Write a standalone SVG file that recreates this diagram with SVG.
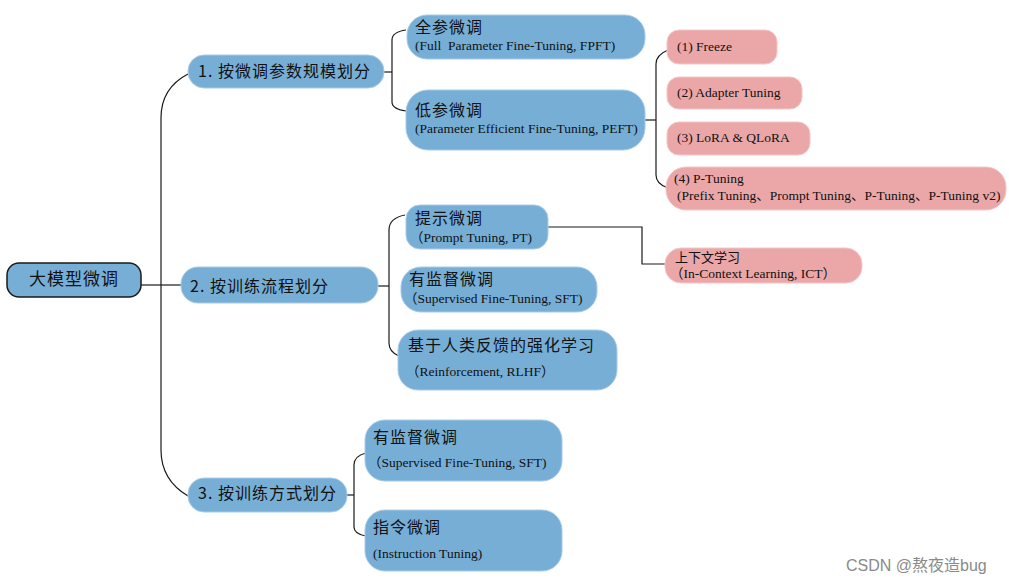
<svg xmlns="http://www.w3.org/2000/svg" width="1009" height="584" viewBox="0 0 1009 584">
<style>
.b{fill:#76AED6;stroke:#A8CBE6;stroke-width:1}
.p{fill:#EBA7A8;stroke:#F3C6C7;stroke-width:1}
.r{fill:#76AED6;stroke:#1a1a1a;stroke-width:1.5}
.c{font-family:"Noto Sans CJK SC","Liberation Sans",sans-serif;fill:#111;font-size:16px;letter-spacing:1px}
.s{font-family:"Liberation Serif","Noto Sans CJK SC",serif;fill:#111;font-size:13.5px;white-space:pre}
.l{fill:none;stroke:#1a1a1a;stroke-width:1.2}
</style>
<rect width="1009" height="584" fill="#fff"/>
<g id="connectors">
<path class="l" d="M141 285H161"/>
<path class="l" d="M188 74Q161 88 161 118V450Q161 480 188 496"/>
<path class="l" d="M161 285H181"/>
<path class="l" d="M384 72H392"/>
<path class="l" d="M406 30Q392 32 392 40V102Q392 109 406 111"/>
<path class="l" d="M643 120H656"/>
<path class="l" d="M668 50Q656 55 656 64V175Q656 184 668 188"/>
<path class="l" d="M378 286H389"/>
<path class="l" d="M405 215Q389 218 389 230V343Q389 352 399 356"/>
<path class="l" d="M548 227H642V264H666"/>
<path class="l" d="M347 495H354"/>
<path class="l" d="M366 453Q354 456 354 465V527Q354 534 366 536"/>
</g>
<g id="root"><rect class="r" x="7" y="263" width="134" height="34" rx="12"/><text class="c" x="74" y="285" style="font-size:17px" text-anchor="middle">大模型微调</text></g>
<g id="n1"><rect class="b" x="188" y="55" width="196" height="33" rx="16"/><text class="c" x="198" y="77">1. 按微调参数规模划分</text></g>
<g id="n1a"><rect class="b" x="407" y="15" width="238" height="44" rx="20"/><text class="c" x="415" y="33">全参微调</text><text class="s" x="415" y="50" xml:space="preserve">(Full  Parameter Fine-Tuning, FPFT)</text></g>
<g id="n1b"><rect class="b" x="406" y="90" width="239" height="60" rx="22"/><text class="c" x="415" y="116">低参微调</text><text class="s" x="415" y="133">(Parameter Efficient Fine-Tuning, PEFT)</text></g>
<g id="p1"><rect class="p" x="667" y="30" width="110" height="34" rx="12"/><text class="s" x="677" y="51">(1) Freeze</text></g>
<g id="p2"><rect class="p" x="667" y="77" width="135" height="32" rx="12"/><text class="s" x="677" y="97">(2) Adapter Tuning</text></g>
<g id="p3"><rect class="p" x="667" y="122" width="143" height="33" rx="12"/><text class="s" x="677" y="142">(3) LoRA &amp; QLoRA</text></g>
<g id="p4"><rect class="p" x="666" y="167" width="340" height="43" rx="20"/><text class="s" x="674" y="183">(4) P-Tuning</text><text class="s" x="677" y="200">(Prefix Tuning、Prompt Tuning、P-Tuning、P-Tuning v2)</text></g>
<g id="n2"><rect class="b" x="181" y="267" width="197" height="36" rx="17"/><text class="c" x="190" y="292">2. 按训练流程划分</text></g>
<g id="n2a"><rect class="b" x="406" y="205" width="142" height="44" rx="14"/><text class="c" x="415" y="224">提示微调</text><text class="s" x="410" y="242">（Prompt Tuning, PT)</text></g>
<g id="n2b"><rect class="b" x="401" y="267" width="196" height="45" rx="20"/><text class="c" x="409" y="285">有监督微调</text><text class="s" x="404" y="303">（Supervised Fine-Tuning, SFT)</text></g>
<g id="n2c"><rect class="b" x="398" y="330" width="219" height="60" rx="20"/><text class="c" x="408" y="351">基于人类反馈的强化学习</text><text class="s" x="406" y="376">（Reinforcement, RLHF）</text></g>
<g id="ict"><rect class="p" x="665" y="248" width="197" height="35" rx="16"/><text class="c" x="675" y="262" style="font-size:13px;letter-spacing:0">上下文学习</text><text class="s" x="670" y="278">（In-Context Learning, ICT）</text></g>
<g id="n3"><rect class="b" x="188" y="478" width="159" height="34" rx="16"/><text class="c" x="198" y="499">3. 按训练方式划分</text></g>
<g id="n3a"><rect class="b" x="365" y="420" width="197" height="61" rx="20"/><text class="c" x="373" y="443">有监督微调</text><text class="s" x="368" y="467">（Supervised Fine-Tuning, SFT)</text></g>
<g id="n3b"><rect class="b" x="365" y="510" width="197" height="61" rx="20"/><text class="c" x="373" y="533">指令微调</text><text class="s" x="373" y="558">(Instruction Tuning)</text></g>
<text x="846" y="571" font-family="'Liberation Sans','Noto Sans CJK SC',sans-serif" font-size="16" fill="#8a8a8a">CSDN @熬夜造bug</text>
</svg>
